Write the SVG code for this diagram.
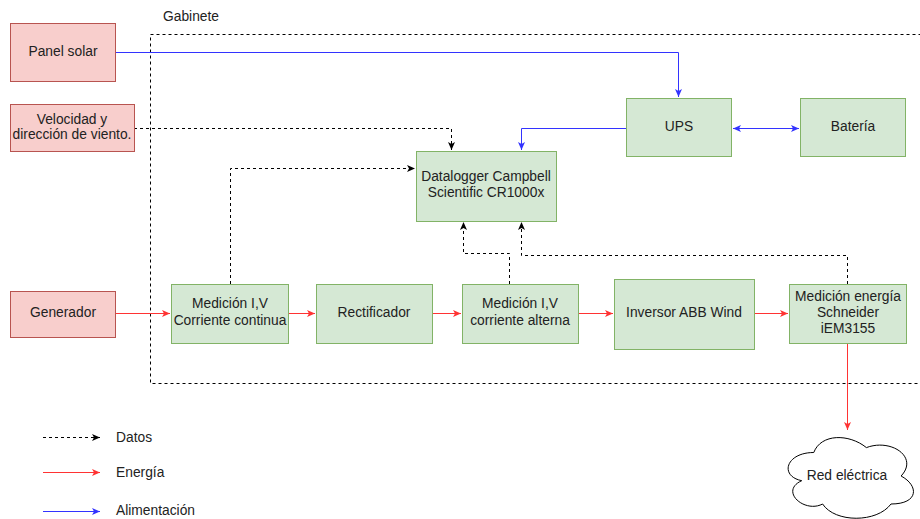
<svg xmlns="http://www.w3.org/2000/svg" width="920" height="519" viewBox="0 0 920 519">
<style>
text{font-family:"Liberation Sans",Arial,sans-serif;font-size:13.8px;fill:#222;text-anchor:middle;dominant-baseline:central}
.red{fill:#f8cecc;stroke:#b85450;stroke-width:1}
.grn{fill:#d5e8d4;stroke:#82b366;stroke-width:1}
.d{fill:none;stroke:#000;stroke-width:1;stroke-dasharray:3 3}
.e{fill:none;stroke:#ff3333;stroke-width:1}
.p{fill:none;stroke:#3333ff;stroke-width:1}
</style>
<defs>
<marker id="ak" markerUnits="userSpaceOnUse" markerWidth="10" markerHeight="10" viewBox="0 0 10 10" refX="9" refY="5" orient="auto"><path d="M1,1.5 L9,5 L1,8.5 L3,5 z" fill="#000"/></marker>
<marker id="ar" markerUnits="userSpaceOnUse" markerWidth="10" markerHeight="10" viewBox="0 0 10 10" refX="9" refY="5" orient="auto"><path d="M1,1.5 L9,5 L1,8.5 L3,5 z" fill="#ff3333"/></marker>
<marker id="ab" markerUnits="userSpaceOnUse" markerWidth="10" markerHeight="10" viewBox="0 0 10 10" refX="9" refY="5" orient="auto"><path d="M1,1.5 L9,5 L1,8.5 L3,5 z" fill="#3333ff"/></marker>
<marker id="abs" markerUnits="userSpaceOnUse" markerWidth="10" markerHeight="10" viewBox="0 0 10 10" refX="9" refY="5" orient="auto-start-reverse"><path d="M1,1.5 L9,5 L1,8.5 L3,5 z" fill="#3333ff"/></marker>
</defs>

<g id="gabinete">
<rect x="150.5" y="34.5" width="800" height="349" fill="none" stroke="#000" stroke-dasharray="3 3"/>
<text x="191" y="16">Gabinete</text>
</g>

<g id="connectors">
<path class="p" d="M116,52.5 H678.5 V97" marker-end="url(#ab)"/>
<path class="p" d="M626,128.5 H521.5 V150" marker-end="url(#ab)"/>
<path class="p" d="M733,128.5 H799" marker-start="url(#abs)" marker-end="url(#abs)"/>
<path class="d" d="M134,128.5 H451.5 V150" marker-end="url(#ak)"/>
<path class="d" d="M230.5,284 V168.5 H415" marker-end="url(#ak)"/>
<path class="d" d="M509.5,284 V253.5 H463.5 V222" marker-end="url(#ak)"/>
<path class="d" d="M847.5,284 V255.5 H521.5 V222" marker-end="url(#ak)"/>
<path class="e" d="M115,313.5 H170" marker-end="url(#ar)"/>
<path class="e" d="M288,313.5 H315" marker-end="url(#ar)"/>
<path class="e" d="M432,313.5 H461" marker-end="url(#ar)"/>
<path class="e" d="M579,313.5 H613" marker-end="url(#ar)"/>
<path class="e" d="M754,313.5 H788" marker-end="url(#ar)"/>
<path class="e" d="M847.5,343 V430" marker-end="url(#ar)"/>
</g>

<g id="panel-solar"><rect class="red" x="10.5" y="23.5" width="105" height="58"/><text x="63" y="51">Panel solar</text></g>
<g id="velocidad"><rect class="red" x="10.5" y="104.5" width="124" height="47"/><text x="72" y="119">Velocidad y</text><text x="72" y="134">dirección de viento.</text></g>
<g id="generador"><rect class="red" x="10.5" y="291.5" width="105" height="46"/><text x="63" y="312">Generador</text></g>
<g id="ups"><rect class="grn" x="626.5" y="98.5" width="105" height="58"/><text x="679" y="126">UPS</text></g>
<g id="bateria"><rect class="grn" x="800.5" y="98.5" width="105" height="58"/><text x="853" y="126">Batería</text></g>
<g id="datalogger"><rect class="grn" x="416.5" y="151.5" width="140" height="70"/><text x="486" y="176">Datalogger Campbell</text><text x="486" y="192">Scientific CR1000x</text></g>
<g id="medicion-dc"><rect class="grn" x="171.5" y="284.5" width="117" height="59"/><text x="230" y="303">Medición I,V</text><text x="230" y="320">Corriente continua</text></g>
<g id="rectificador"><rect class="grn" x="316.5" y="284.5" width="116" height="59"/><text x="374" y="312">Rectificador</text></g>
<g id="medicion-ac"><rect class="grn" x="462.5" y="284.5" width="116" height="59"/><text x="520" y="303">Medición I,V</text><text x="520" y="320">corriente alterna</text></g>
<g id="inversor"><rect class="grn" x="614.5" y="279.5" width="140" height="70"/><text x="684" y="312">Inversor ABB Wind</text></g>
<g id="medicion-energia"><rect class="grn" x="789.5" y="284.5" width="117" height="59"/><text x="848" y="296">Medición energía</text><text x="848" y="312">Schneider</text><text x="848" y="328">iEM3155</text></g>
<g id="red-electrica">
<path d="M813.75,452.5 C786,452.5 779,476 801.7,480.7 C779,491 804.5,513.6 822.6,504 C835,523 877,523 891,504 C919,504 919,485.6 901.1,476 C919,457 891,438.2 866.4,447.6 C849,433.5 821,433.5 813.75,452.5 Z" fill="#fff" stroke="#000" stroke-width="1"/>
<text x="847" y="475">Red eléctrica</text>
</g>

<g id="legend">
<path class="d" d="M43,437.5 H100" marker-end="url(#ak)"/>
<path class="e" d="M43,472.5 H100" marker-end="url(#ar)"/>
<path class="p" d="M43,511.5 H100" marker-end="url(#ab)"/>
<text x="116" y="437" style="text-anchor:start">Datos</text>
<text x="116" y="472" style="text-anchor:start">Energía</text>
<text x="116" y="510" style="text-anchor:start">Alimentación</text>
</g>
</svg>
